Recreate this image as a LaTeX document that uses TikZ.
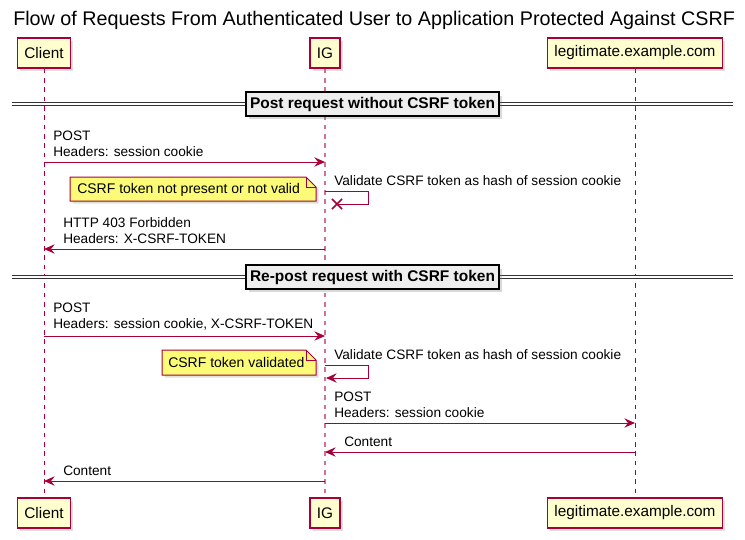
\documentclass[tikz,border=0pt]{standalone}
\usepackage{fontspec}
\setmainfont{Liberation Sans}
\usetikzlibrary{arrows.meta,shadows,backgrounds,shapes.misc}
\definecolor{umlred}{HTML}{A80036}
\definecolor{umlbox}{HTML}{FEFECE}
\definecolor{umlnote}{HTML}{FBFB77}
\definecolor{umlsep}{HTML}{EEEEEE}
\begin{document}
\begin{tikzpicture}[x=0.75pt,y=-0.75pt,
    actor/.style={draw=umlred, fill=umlbox, line width=1.1pt, minimum height=22.5pt,
      inner xsep=5.3pt, font=\fontsize{11.5}{13}\selectfont,
      drop shadow={shadow xshift=2pt, shadow yshift=-2pt, opacity=0.25}},
    life/.style={draw=umlred, line width=0.75pt, dash pattern=on 3.5pt off 3.5pt},
    msg/.style={draw=umlred, line width=0.75pt, -{Stealth[length=8pt, width=7pt, inset=2.8pt]}},
    lbl/.style={anchor=south west, inner sep=0pt, align=left, font=\fontsize{10.25}{12}\selectfont},
    notebox/.style={draw=umlred, fill=umlnote, line width=0.75pt,
      drop shadow={shadow xshift=2pt, shadow yshift=-2pt, opacity=0.25}},
    notetext/.style={anchor=base west, inner sep=0pt, font=\fontsize{10.5}{12}\selectfont},
    sepline/.style={draw=black!80, double=white, double distance=1.5pt, line width=0.7pt},
    divider/.style={draw=black, fill=umlsep, line width=1.5pt, minimum height=15.75pt,
      inner xsep=3pt, font=\fontsize{11.6}{13}\selectfont\bfseries,
      drop shadow={shadow xshift=2.5pt, shadow yshift=-2.5pt, opacity=0.3}},
    crossx/.style={cross out, draw=umlred, line width=1.1pt, minimum size=6.5pt, inner sep=0pt}]
  \useasboundingbox (0,0) rectangle (745,539);

  \node[anchor=base west, inner sep=0pt, font=\fontsize{14.8}{17}\selectfont] (title) at (13,26)
    {Flow of Requests From Authenticated User to Application Protected Against CSRF};

  % participants
  \node[actor] (client) at (44,53) {Client};
  \node[actor] (ig) at (325,53) {IG};
  \node[actor] (site) at (635,53) {legitimate.example.com};
  \node[actor] (clientb) at (44,513) {Client};
  \node[actor] (igb) at (325,513) {IG};
  \node[actor] (siteb) at (635,513) {legitimate.example.com};

  % lifelines
  \begin{scope}[on background layer]
    \draw[life] (client) -- (clientb);
    \draw[life, draw=umlred!55, line width=1.3pt] (ig) -- (igb);
    \draw[life] (site) -- (siteb);
  \end{scope}

  % first try
  \draw[sepline] (12,104) -- (733,104);
  \node[divider] (sep1) at (372.5,104) {Post request without CSRF token};

  \coordinate (m1) at (0,162);
  \draw[msg] (client |- m1) -- (ig |- m1);
  \node[lbl] (t1) at (53,157) {POST\\Headers: session cookie};

  \coordinate (s1) at (0,191);
  \draw[draw=umlred, line width=0.75pt] (ig |- s1) -- ++(43,0) -- ++(0,13) -- ++(-31,0) coordinate (x1);
  \node[crossx] (k1) at (x1) {};
  \node[lbl] (t2) at (334,186) {Validate CSRF token as hash of session cookie};

  \fill[notebox] (70,177) -- (306,177) -- (316,187) -- (316,201) -- (70,201) -- cycle;
  \draw[draw=umlred, line width=0.75pt] (306,177) -- (306,187) -- (316,187);
  \node[notetext] (n1) at (77,193.5) {CSRF token not present or not valid};

  \coordinate (m2) at (0,249);
  \draw[msg] (ig |- m2) -- (client |- m2);
  \node[lbl] (t3) at (63,244) {HTTP 403 Forbidden\\Headers: X-CSRF-TOKEN};

  % second try
  \draw[sepline] (12,277) -- (733,277);
  \node[divider] (sep2) at (372.5,277) {Re-post request with CSRF token};

  \coordinate (m3) at (0,336);
  \draw[msg] (client |- m3) -- (ig |- m3);
  \node[lbl] (t4) at (53,331) {POST\\Headers: session cookie, X-CSRF-TOKEN};

  \coordinate (s2) at (0,365);
  \draw[msg] (ig |- s2) -- ++(43,0) -- ++(0,13) -- ++(-42,0);
  \node[lbl] (t5) at (334,360) {Validate CSRF token as hash of session cookie};

  \fill[notebox] (162,350) -- (306,350) -- (316,360) -- (316,375) -- (162,375) -- cycle;
  \draw[draw=umlred, line width=0.75pt] (306,350) -- (306,360) -- (316,360);
  \node[notetext] (n2) at (168,367.5) {CSRF token validated};

  \coordinate (m4) at (0,423);
  \draw[msg] (ig |- m4) -- (site |- m4);
  \node[lbl] (t6) at (334,418) {POST\\Headers: session cookie};

  \coordinate (m5) at (0,452);
  \draw[msg] (site |- m5) -- (ig |- m5);
  \node[lbl] (t7) at (344,447) {Content};

  \coordinate (m6) at (0,481);
  \draw[msg] (ig |- m6) -- (client |- m6);
  \node[lbl] (t8) at (63,476) {Content};
\end{tikzpicture}
\end{document}
